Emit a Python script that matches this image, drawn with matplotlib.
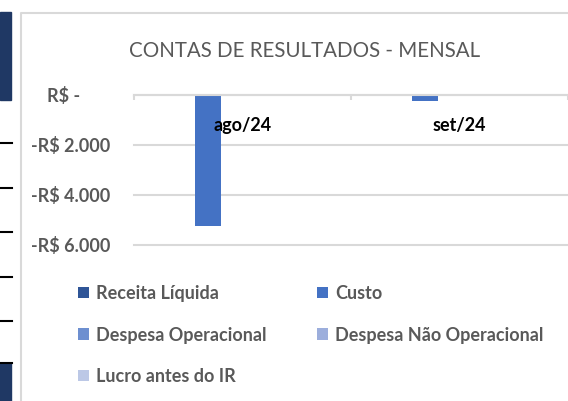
import matplotlib
matplotlib.use("Agg")
import matplotlib.pyplot as plt
import numpy as np
from matplotlib.patches import Patch, Rectangle
from matplotlib.lines import Line2D
from matplotlib.ticker import FuncFormatter, FixedLocator

plt.rcParams['font.family'] = ['Lato', 'DejaVu Sans']

# dados do grafico
meses = ["ago/24", "set/24"]
series = ["Receita Líquida", "Custo", "Despesa Operacional",
          "Despesa Não Operacional", "Lucro antes do IR"]
receita = [0, 0]
custo = [-5250, -240]
desp_op = [0, 0]
desp_nao_op = [0, 0]
lucro_ir = [0, 0]
cores = ["#2F5597", "#4472C4", "#6D8FD0", "#9CAEDC", "#BCC8E6"]
y_ticks = [0, -2000, -4000, -6000]

W, H = 568, 401
fig = plt.figure(figsize=(W / 100, H / 100), dpi=100)


def fx(px):
    return px / W


def fy(py):
    return 1 - py / H


# moldura / restos da planilha em volta
fig.add_artist(Rectangle((0, fy(100)), fx(11), fy(12) - fy(100), color="#1F3864",
                         transform=fig.transFigure))
fig.add_artist(Rectangle((0, 0), fx(11), fy(363), color="#1F3864",
                         transform=fig.transFigure))
for yy in [143, 188, 232, 277, 321, 363]:
    fig.add_artist(Line2D([0, fx(12)], [fy(yy), fy(yy)], color="black", lw=1.5,
                          transform=fig.transFigure))
fig.add_artist(Line2D([fx(21), fx(21), 1], [0, fy(13), fy(13)], color="#D9D9D9", lw=1.5,
                      transform=fig.transFigure))

ax = fig.add_axes([fx(134), fy(245), fx(568) - fx(134), fy(95) - fy(245)])

x = np.arange(len(meses))
step = 0.157
width = 0.12
valores = [receita, custo, desp_op, desp_nao_op, lucro_ir]
for i, vals in enumerate(valores):
    ax.bar(x + (i - 2) * step, vals, width, color=cores[i], label=series[i], zorder=1)

ax.set_xlim(-0.5, 1.5)
ax.set_ylim(-6000, 0)

for s in ["top", "right", "left"]:
    ax.spines[s].set_visible(False)
ax.spines["bottom"].set_position(("data", 0))
ax.spines["bottom"].set_color("#D9D9D9")
ax.spines["bottom"].set_linewidth(1.5)

ax.set_xticks(x)
ax.set_xticklabels(meses, fontsize=13, fontweight="bold", color="black")
ax.xaxis.set_minor_locator(FixedLocator([-0.5, 0.5, 1.5]))
ax.tick_params(axis="x", which="major", length=0, pad=15.5)
ax.tick_params(axis="x", which="minor", length=3.6, width=1.5, color="#D9D9D9")


def fmt_rs(v, pos):
    if v == 0:
        return "R$ -       "
    return "-R$ {:,.0f}".format(abs(v)).replace(",", ".")


ax.yaxis.set_major_locator(FixedLocator(y_ticks))
ax.yaxis.set_major_formatter(FuncFormatter(fmt_rs))
ax.tick_params(axis="y", length=0, pad=17, labelsize=13, labelcolor="#595959")
for lb in ax.get_yticklabels():
    lb.set_fontweight("bold")
ax.yaxis.grid(True, color="#D9D9D9", lw=1.5)
for gl in ax.get_ygridlines():
    gl.set_clip_on(False)

ax.yaxis.set_zorder(0.5)
ax.xaxis.set_zorder(4)

fig.text(fx(305), fy(57), "CONTAS DE RESULTADOS - MENSAL", ha="center", va="baseline",
         fontsize=14.8, color="#595959")

# legenda em ordem de linha, como no Excel
ordem = [0, 2, 4, 1, 3]
handles = [Patch(facecolor=cores[i]) for i in ordem]
labels = [series[i] for i in ordem]
fig.legend(handles, labels, loc="upper left", bbox_to_anchor=(fx(78), fy(285)),
           ncol=2, frameon=False, prop={"size": 13, "weight": "bold"},
           labelcolor="#595959", handlelength=0.6, handleheight=0.6,
           handletextpad=0.4, columnspacing=2.8, labelspacing=1.36,
           borderaxespad=0, borderpad=0)

fig.savefig("out.png", dpi=100)
